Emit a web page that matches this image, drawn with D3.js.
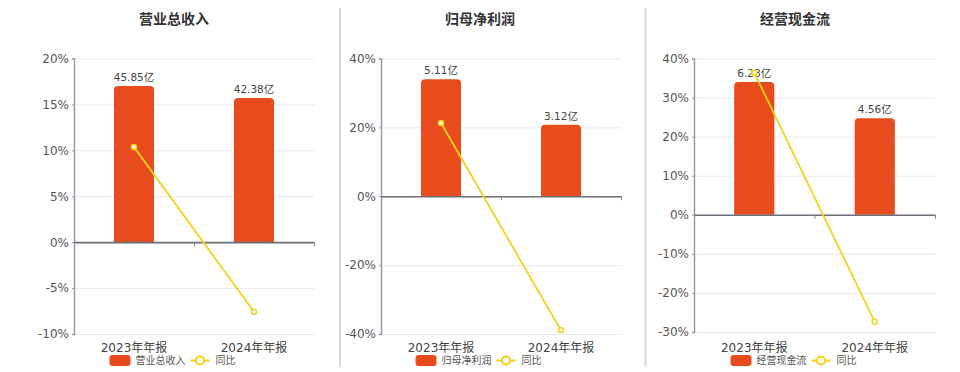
<!DOCTYPE html>
<html>
<head>
<meta charset="utf-8">
<script src="https://cdn.jsdelivr.net/npm/d3@7"></script>
<style>
  body { margin: 0; background: #fff; }
  svg text { font-family: "DejaVu Sans", "Noto Sans CJK SC", sans-serif; }
</style>
</head>
<body>
<svg id="chart" width="960" height="372"></svg>
<script>
// data
const categories = ["2023年年报", "2024年年报"];
const titles = ["营业总收入", "归母净利润", "经营现金流"];

const revenue = [45.85, 42.38];
const revenueYoY = [10.35, -7.57];
const profit = [5.11, 3.12];
const profitYoY = [21.25, -38.94];
const cashflow = [6.28, 4.56];
const cashflowYoY = [36.35, -27.39];

const revenueTicks = [-10, -5, 0, 5, 10, 15, 20];
const profitTicks = [-40, -20, 0, 20, 40];
const cashflowTicks = [-30, -20, -10, 0, 10, 20, 30, 40];

const BAR_COLOR = "#e84c1d";
const LINE_COLOR = "#f5d11c";
const TOP = 58.5, BOTTOM = 334;

// layout of the three panels
const layout = [
  {x0: 74, x1: 314, cx: 174, bottom: 334},
  {x0: 381, x1: 621, cx: 480, bottom: 334},
  {x0: 694, x1: 935, cx: 795, bottom: 332}
];

const panels = [
  {title: titles[0], values: revenue, yoy: revenueYoY, ticks: revenueTicks},
  {title: titles[1], values: profit, yoy: profitYoY, ticks: profitTicks},
  {title: titles[2], values: cashflow, yoy: cashflowYoY, ticks: cashflowTicks}
];

const svg = d3.select("#chart");

// panel separators
svg.selectAll("line.sep")
  .data([340, 645.5])
  .enter()
  .append("line")
  .attr("x1", d => d).attr("x2", d => d)
  .attr("y1", 8).attr("y2", 367)
  .attr("stroke", "#d9d9d9")
  .attr("stroke-width", 2);

function topRounded(x, y, w, h, r) {
  r = Math.min(r, h);
  return `M${x},${y + h}V${y + r}Q${x},${y} ${x + r},${y}H${x + w - r}Q${x + w},${y} ${x + w},${y + r}V${y + h}Z`;
}

panels.forEach((p, i) => {
  const L = layout[i];
  const g = svg.append("g");

  const yMin = d3.min(p.ticks), yMax = d3.max(p.ticks);
  const y = d3.scaleLinear().domain([yMin, yMax]).range([L.bottom, TOP]);

  // hidden value axis for the bars, zero aligned with the percent axis
  const barMax = d3.max(p.values) * 1.177;
  const yBar = d3.scaleLinear()
    .domain([barMax * yMin / yMax, barMax])
    .range([L.bottom, TOP]);

  const x = d3.scaleBand().domain(categories).range([L.x0, L.x1]);
  const barW = x.bandwidth() / 3;

  // title
  g.append("text")
    .attr("x", L.cx).attr("y", 24)
    .attr("text-anchor", "middle")
    .attr("font-size", 14)
    .attr("font-weight", "bold")
    .attr("fill", "#333")
    .text(p.title);

  // grid
  g.append("g")
    .attr("transform", `translate(${L.x0},0)`)
    .call(d3.axisLeft(y).tickValues(p.ticks).tickSize(-(L.x1 - L.x0)).tickFormat(""))
    .call(s => s.select(".domain").remove())
    .call(s => s.selectAll(".tick line").attr("stroke", "#e6e9f4"));

  // y axis
  g.append("g")
    .attr("transform", `translate(${L.x0},0)`)
    .call(d3.axisLeft(y).tickValues(p.ticks).tickSize(2).tickPadding(3).tickFormat(d => d + "%"))
    .call(s => s.select(".domain").attr("stroke", "#9a9aa6").attr("stroke-width", 1.5))
    .call(s => s.selectAll(".tick line").attr("stroke", "#9a9aa6"))
    .call(s => s.selectAll(".tick text").attr("font-size", 12).attr("fill", "#555").attr("font-family", "DejaVu Sans"));

  // category labels
  g.append("g")
    .attr("transform", `translate(0,${BOTTOM})`)
    .call(d3.axisBottom(x).tickSize(0).tickPadding(9))
    .call(s => s.select(".domain").remove())
    .call(s => s.selectAll(".tick text").attr("font-size", 12).attr("fill", "#444"));

  // bars
  g.selectAll("path.bar")
    .data(p.values)
    .enter()
    .append("path")
    .attr("class", "bar")
    .attr("fill", BAR_COLOR)
    .attr("d", (d, j) => {
      const bx = x(categories[j]) + (x.bandwidth() - barW) / 2;
      return topRounded(bx, yBar(d), barW, yBar(0) - yBar(d), 4);
    });

  // zero line with band boundary ticks
  const edges = d3.scaleLinear().domain([0, categories.length]).range([L.x0, L.x1]);
  g.append("g")
    .attr("transform", `translate(0,${y(0)})`)
    .call(d3.axisBottom(edges).tickValues(d3.range(1, categories.length + 1)).tickSize(4).tickSizeOuter(0).tickFormat(""))
    .call(s => s.select(".domain").attr("stroke", "#6e6e78").attr("stroke-width", 1.6))
    .call(s => s.selectAll(".tick line").attr("stroke", "#8a8a94"));

  // value labels
  g.selectAll("text.val")
    .data(p.values)
    .enter()
    .append("text")
    .attr("x", (d, j) => x(categories[j]) + x.bandwidth() / 2)
    .attr("y", d => yBar(d) - 5)
    .attr("text-anchor", "middle")
    .attr("font-size", 10.5)
    .attr("fill", "#444")
    .text(d => d.toFixed(2) + "亿");

  // yoy line
  const line = d3.line()
    .x((d, j) => x(categories[j]) + x.bandwidth() / 2)
    .y(d => y(d));

  g.append("path")
    .datum(p.yoy)
    .attr("fill", "none")
    .attr("stroke", LINE_COLOR)
    .attr("stroke-width", 1.8)
    .attr("d", line);

  g.selectAll("circle.pt")
    .data(p.yoy)
    .enter()
    .append("circle")
    .attr("cx", (d, j) => x(categories[j]) + x.bandwidth() / 2)
    .attr("cy", d => y(d))
    .attr("r", 2.5)
    .attr("fill", "#fff")
    .attr("stroke", LINE_COLOR)
    .attr("stroke-width", 1.5);

  // legend, centred under the panel
  const lg = g.append("g").attr("transform", `translate(${L.cx - 64.5},360.5)`);
  lg.append("rect")
    .attr("x", 0).attr("y", -5.5)
    .attr("width", 21).attr("height", 11)
    .attr("rx", 3)
    .attr("fill", BAR_COLOR);
  lg.append("text")
    .attr("x", 26).attr("y", 3.8)
    .attr("font-size", 10)
    .attr("fill", "#555")
    .text(p.title);
  const lx = 26 + p.title.length * 10 + 5;
  lg.append("line")
    .attr("x1", lx).attr("x2", lx + 19)
    .attr("y1", 0).attr("y2", 0)
    .attr("stroke", LINE_COLOR)
    .attr("stroke-width", 2);
  lg.append("circle")
    .attr("cx", lx + 9.5).attr("cy", 0)
    .attr("r", 4)
    .attr("fill", "#fff")
    .attr("stroke", LINE_COLOR)
    .attr("stroke-width", 2);
  lg.append("text")
    .attr("x", lx + 25).attr("y", 3.8)
    .attr("font-size", 10)
    .attr("fill", "#555")
    .text("同比");
});
</script>
</body>
</html>
